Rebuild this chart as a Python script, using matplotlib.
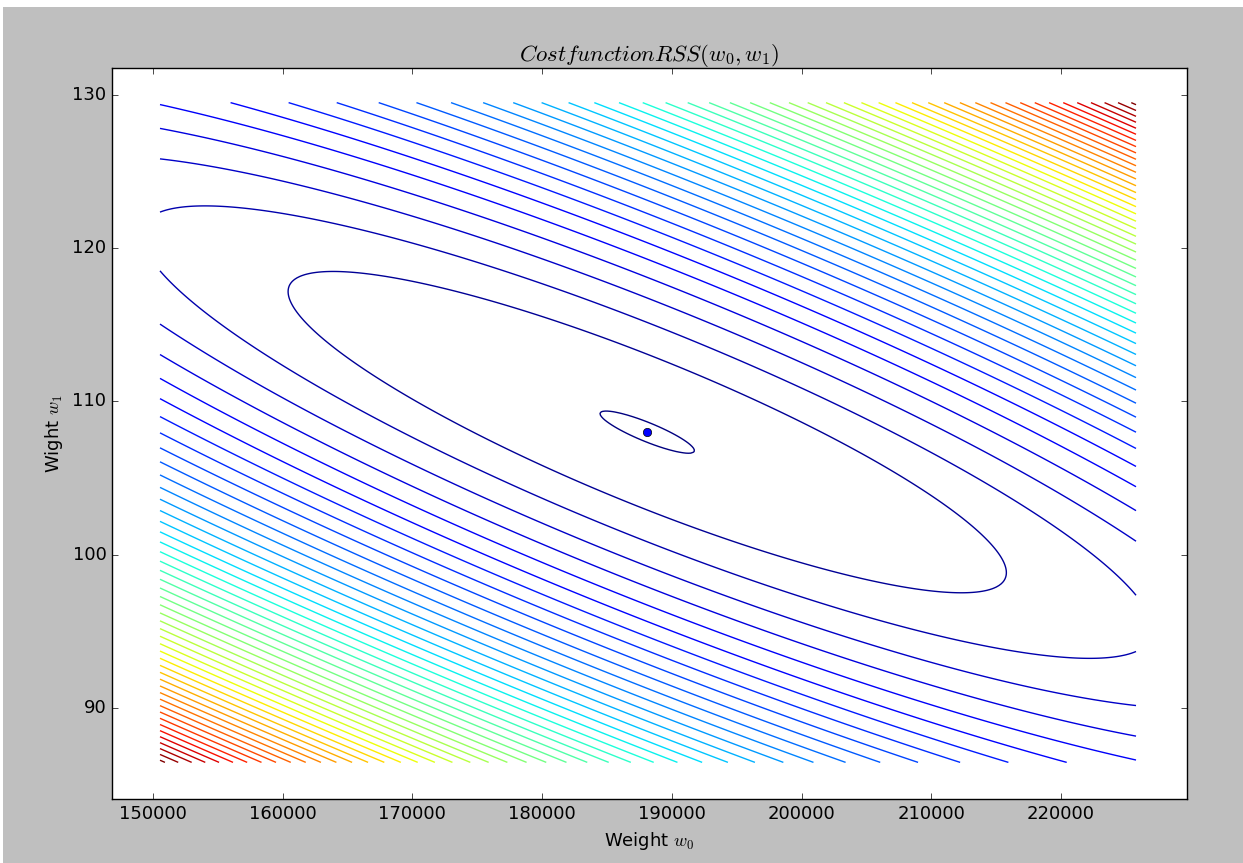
import numpy as np
import matplotlib.pyplot as plt
import matplotlib.patches as mpatches

plt.style.use('classic')
plt.rcParams['mathtext.fontset'] = 'cm'

# best fit weights (the dot)
w0_best = 188100
w1_best = 108.0

# range of the grid the cost was evaluated on
w0_lo, w0_hi = 150540, 225780
w1_lo, w1_hi = 86.45, 129.5

# quadratic shape of RSS around the minimum (w0 taken in thousands),
# scaled so that one unit = one contour step
a_00 = 0.00565
a_01 = 0.02610
a_11 = 0.03940
first_level = 0.0176   # lowest contour sits just above the minimum
n_levels = 48

xticks = [150000, 160000, 170000, 180000, 190000, 200000, 210000, 220000]
yticks = [90, 100, 110, 120, 130]

w0 = np.linspace(w0_lo, w0_hi, 400)
w1 = np.linspace(w1_lo, w1_hi, 400)
W0, W1 = np.meshgrid(w0, w1)
u = (W0 - w0_best) / 1000.0
v = W1 - w1_best
RSS = a_00 * u**2 + a_01 * u * v + a_11 * v**2
levels = first_level + np.arange(n_levels)

fig = plt.figure(figsize=(12.43, 8.63), dpi=100)
fig.patch.set_facecolor('#bfbfbf')
# white strips of the screenshot
fig.patches.append(mpatches.Rectangle((0, 1 - 7 / 863.), 1, 7 / 863., transform=fig.transFigure,
                                      facecolor='white', edgecolor='none', zorder=-1))
fig.patches.append(mpatches.Rectangle((0, 0), 3 / 1243., 1, transform=fig.transFigure,
                                      facecolor='white', edgecolor='none', zorder=-1))

ax = fig.add_axes([112 / 1243., 64 / 863., 1075 / 1243., 731 / 863.])
ax.contour(W0, W1, RSS, levels, cmap='jet', linewidths=1.0)
ax.plot(w0_best, w1_best, 'bo', markersize=6)

ax.set_xlim(146840, 229710)
ax.set_ylim(84.06, 131.76)
ax.set_xticks(xticks)
ax.set_yticks(yticks)
ax.ticklabel_format(useOffset=False, style='plain')
ax.tick_params(labelsize=13)

ax.set_title('$Cost function RSS(w_0, w_1)$', fontsize=16.5)
ax.set_xlabel('Weight $w_0$', fontsize=13)
ax.set_ylabel('Wight $w_1$', fontsize=13)

fig.savefig('out.png', dpi=100, facecolor=fig.get_facecolor())
